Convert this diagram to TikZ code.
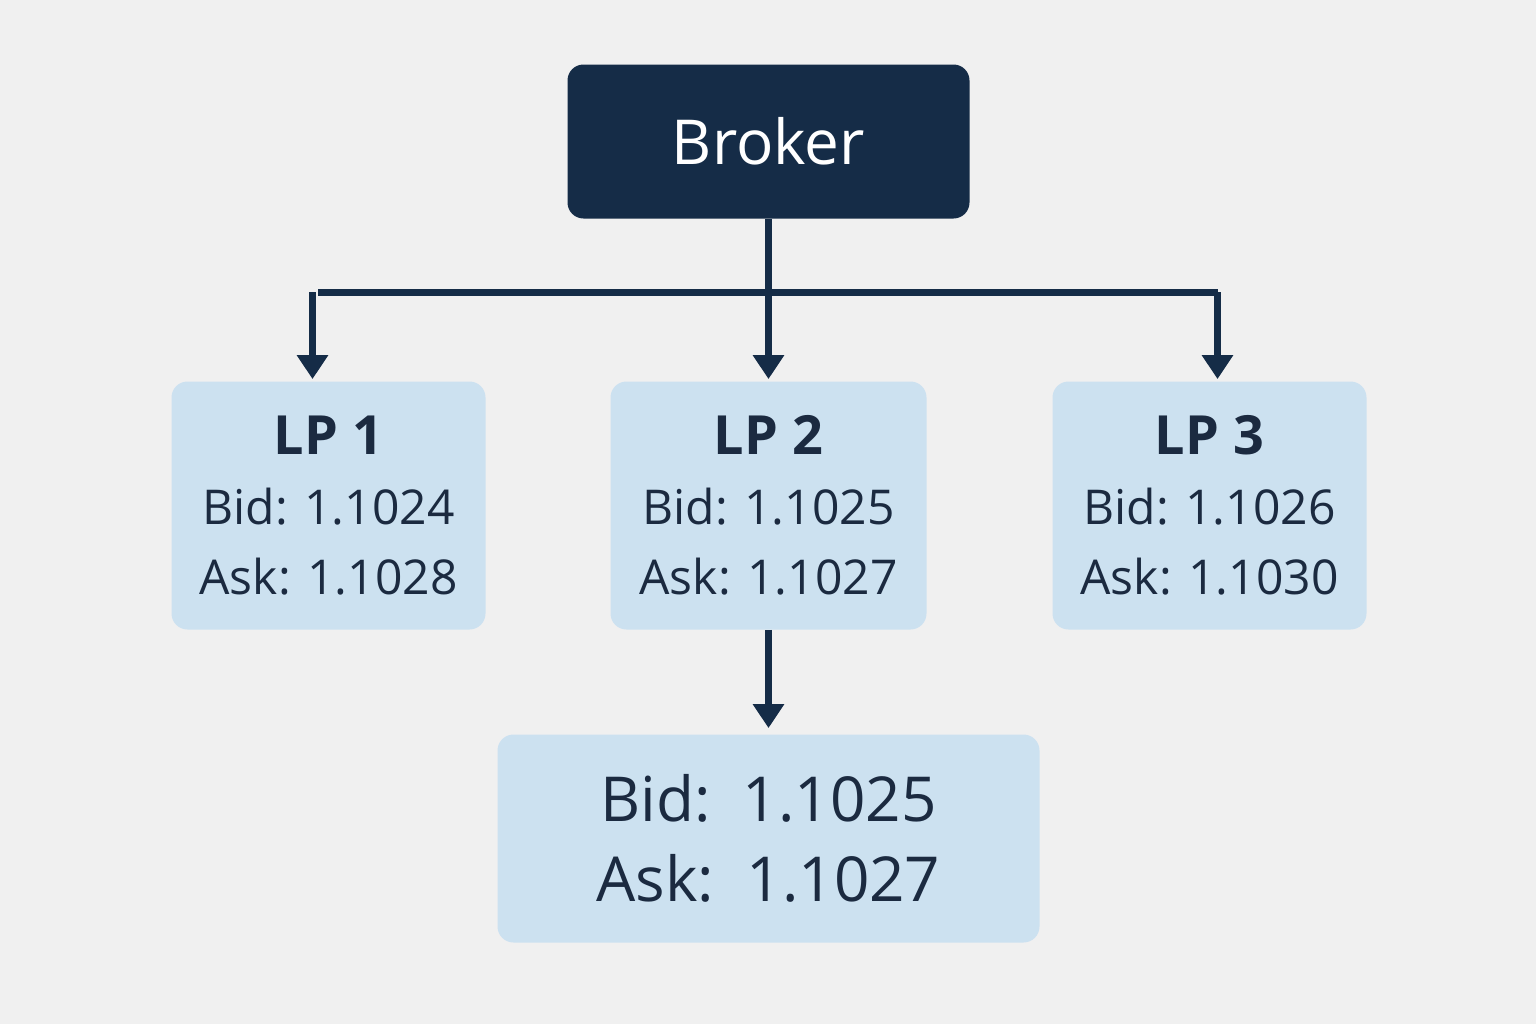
\documentclass[tikz,border=0pt]{standalone}
\usepackage{fontspec}
\setmainfont{Open Sans}
\usetikzlibrary{arrows.meta}
\definecolor{navy}{HTML}{152C47}
\definecolor{lb}{HTML}{CCE1F0}
\definecolor{bg}{HTML}{F0F0F0}
\definecolor{tx}{HTML}{1B2A40}
\begin{document}
\begin{tikzpicture}[x=0.5pt,y=-0.5pt,
 lp/.style={fill=lb,rounded corners=8pt,minimum width=157pt,minimum height=124pt,align=center,text=tx,font=\fontsize{24}{35}\selectfont,inner sep=0pt},
 conn/.style={draw=navy,line width=3.5pt,-{Triangle[length=12pt,width=15pt]}}]
\fill[bg] (0,0) rectangle (1536,1024);
\node[fill=navy,rounded corners=8pt,minimum width=201pt,minimum height=77pt,text=white,font=\fontsize{31}{36}\selectfont] (broker) at (768.5,141.5) {Broker};
\node[lp] (lp1) at (328.5,505.5) {\fontsize{27}{35}\selectfont\bfseries LP 1\\Bid: 1.1024\\Ask: 1.1028};
\node[lp,minimum width=158pt] (lp2) at (768.5,505.5) {\fontsize{27}{35}\selectfont\bfseries LP 2\\Bid: 1.1025\\Ask: 1.1027};
\node[lp] (lp3) at (1209.5,505.5) {\fontsize{27}{35}\selectfont\bfseries LP 3\\Bid: 1.1026\\Ask: 1.1030};
\node[lp,minimum width=271pt,minimum height=104pt,font=\fontsize{31}{40}\selectfont] (res) at (768.5,838.5) {Bid:\ \ 1.1025\\Ask:\ \ 1.1027};
\coordinate (j) at (768.5,292);
\draw[navy,line width=3.5pt] (broker.south) -- (j);
\draw[navy,line width=3.5pt] (318,292) -- (1218,292);
\draw[conn] (j) -- ([yshift=1pt]lp2.north);
\draw[conn] ([xshift=-8pt]j -| lp1.north) -- ([xshift=-8pt,yshift=1pt]lp1.north);
\draw[conn] ([xshift=4pt]j -| lp3.north) -- ([xshift=4pt,yshift=1pt]lp3.north);
\draw[conn] (lp2.south) -- ([yshift=3pt]res.north);
\end{tikzpicture}
\end{document}
